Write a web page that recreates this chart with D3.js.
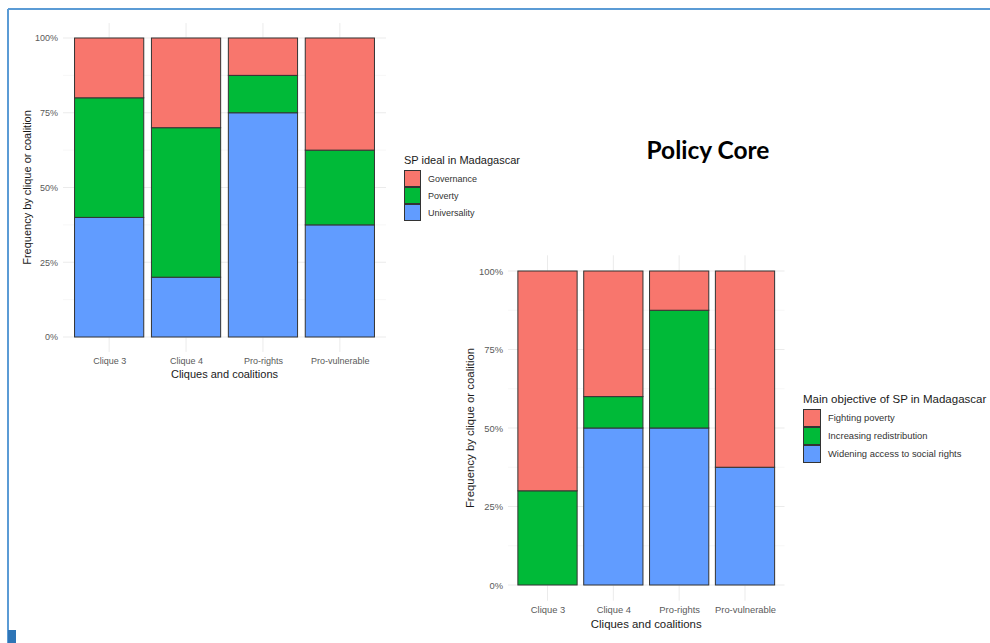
<!DOCTYPE html>
<html>
<head>
<meta charset="utf-8">
<script src="https://cdn.jsdelivr.net/npm/d3@7"></script>
<style>
  body { margin: 0; background: #fff; }
  svg { display: block; font-family: "Liberation Sans", Arial, sans-serif; }
</style>
</head>
<body>
<script>
var w = 990,
    h = 643;

// categories shared by both charts
var cats = ["Clique 3", "Clique 4", "Pro-rights", "Pro-vulnerable"];

// chart 1: SP ideal
var idealKeys = ["Governance", "Poverty", "Universality"];
var idealGovernance   = [0.20, 0.30, 0.125, 0.375];
var idealPoverty      = [0.40, 0.50, 0.125, 0.25];
var idealUniversality = [0.40, 0.20, 0.75,  0.375];

// chart 2: main objective
var objKeys = ["Fighting poverty", "Increasing redistribution", "Widening access to social rights"];
var objFighting   = [0.70, 0.40, 0.125, 0.625];
var objIncreasing = [0.30, 0.10, 0.375, 0];
var objWidening   = [0,    0.50, 0.50,  0.375];

var yTicks = [0, 0.25, 0.5, 0.75, 1];
var fills = ["#F8766D", "#00BA38", "#619CFF"];

var svg = d3.select("body").append("svg")
    .attr("width", w)
    .attr("height", h);

// frame lines of the slide
svg.append("line").attr("x1", 8).attr("y1", 9).attr("x2", w + 2).attr("y2", 9)
  .attr("stroke", "#5b9bd5").attr("stroke-width", 2);
svg.append("line").attr("x1", 8).attr("y1", 9).attr("x2", 8).attr("y2", h)
  .attr("stroke", "#5b9bd5").attr("stroke-width", 2);
svg.append("rect").attr("x", 8).attr("y", 630).attr("width", 8).attr("height", 13)
  .attr("fill", "#2e75b6");

function drawChart(c) {
  var rows = cats.map(function(cat, i) {
    var r = { cat: cat };
    c.keys.forEach(function(k, j) { r[k] = c.series[j][i]; });
    return r;
  });

  // first key sits on top, like ggplot
  var stacked = d3.stack().keys(c.keys.slice().reverse())(rows);

  var x = d3.scalePoint().domain(cats).range([c.left, c.right]).padding(0.6);
  var bw = x.step() * 0.9;
  var y = d3.scaleLinear().domain([0, 1]).range([c.y0, c.y1]);
  var pad = (c.y0 - c.y1) * 0.05;
  var top = c.y1 - pad, bottom = c.y0 + pad;

  var g = svg.append("g");

  // grid (theme_minimal)
  var minor = [0.125, 0.375, 0.625, 0.875];
  g.selectAll("line.minor").data(minor).enter().append("line")
    .attr("x1", c.left).attr("x2", c.right)
    .attr("y1", function(d) { return y(d); }).attr("y2", function(d) { return y(d); })
    .attr("stroke", "#f2f2f2").attr("stroke-width", 0.6);
  g.selectAll("line.hmajor").data(yTicks).enter().append("line")
    .attr("x1", c.left).attr("x2", c.right)
    .attr("y1", function(d) { return y(d); }).attr("y2", function(d) { return y(d); })
    .attr("stroke", "#ebebeb").attr("stroke-width", 1);
  g.selectAll("line.vmajor").data(cats).enter().append("line")
    .attr("x1", function(d) { return x(d); }).attr("x2", function(d) { return x(d); })
    .attr("y1", top).attr("y2", bottom)
    .attr("stroke", "#ebebeb").attr("stroke-width", 1);

  // bars
  stacked.forEach(function(layer) {
    var col = fills[c.keys.indexOf(layer.key)];
    g.selectAll(null).data(layer.filter(function(d) { return d[1] - d[0] > 0; }))
      .enter().append("rect")
      .attr("x", function(d) { return x(d.data.cat) - bw / 2; })
      .attr("width", bw)
      .attr("y", function(d) { return y(d[1]); })
      .attr("height", function(d) { return y(d[0]) - y(d[1]); })
      .attr("fill", col)
      .attr("stroke", "#333")
      .attr("stroke-width", 1);
  });

  // y axis
  var ya = g.append("g")
    .attr("transform", "translate(" + (c.left - 4) + ",0)")
    .call(d3.axisLeft(y).tickValues(yTicks).tickFormat(d3.format(".0%")).tickSize(0).tickPadding(1));
  ya.select(".domain").remove();
  ya.selectAll("text").attr("fill", "#5a5a5a").style("font-size", c.tick + "px")
    .style("font-family", "Liberation Sans, Arial, sans-serif");

  // x axis
  var xa = g.append("g")
    .attr("transform", "translate(0," + (bottom + 3) + ")")
    .call(d3.axisBottom(x).tickSize(0).tickPadding(3));
  xa.select(".domain").remove();
  xa.selectAll("text").attr("fill", "#5a5a5a").style("font-size", c.tick + "px")
    .style("font-family", "Liberation Sans, Arial, sans-serif");

  g.append("text")
    .attr("x", (c.left + c.right) / 2).attr("y", c.xTitleY)
    .attr("text-anchor", "middle").attr("fill", "#1a1a1a")
    .style("font-size", c.title + "px")
    .text("Cliques and coalitions");

  g.append("text")
    .attr("transform", "translate(" + c.yTitleX + "," + ((top + bottom) / 2) + ") rotate(-90)")
    .attr("text-anchor", "middle").attr("fill", "#1a1a1a")
    .style("font-size", c.title + "px")
    .text("Frequency by clique or coalition");

  // legend
  var lg = svg.append("g").attr("transform", "translate(" + c.legX + "," + c.legY + ")");
  lg.append("text").attr("x", 0).attr("y", -6).attr("fill", "#1a1a1a")
    .style("font-size", c.legTitle + "px").text(c.legendTitle);
  c.keys.forEach(function(k, i) {
    lg.append("rect")
      .attr("x", 0.5).attr("y", i * c.keySize + 0.5)
      .attr("width", c.keySize - 1).attr("height", c.keySize - 1)
      .attr("fill", fills[i]).attr("stroke", "#333").attr("stroke-width", 1);
    lg.append("text")
      .attr("x", c.keySize + 7).attr("y", i * c.keySize + c.keySize / 2 + 3)
      .attr("fill", "#333").style("font-size", c.tick + "px")
      .text(k);
  });
}

drawChart({
  keys: idealKeys,
  series: [idealGovernance, idealPoverty, idealUniversality],
  left: 63, right: 386, y0: 337, y1: 38,
  tick: 9, title: 11, legTitle: 11,
  xTitleY: 378, yTitleX: 31,
  legendTitle: "SP ideal in Madagascar",
  legX: 404, legY: 170, keySize: 17
});

drawChart({
  keys: objKeys,
  series: [objFighting, objIncreasing, objWidening],
  left: 508, right: 784.5, y0: 585, y1: 271,
  tick: 9.4, title: 11.4, legTitle: 11.5,
  xTitleY: 628, yTitleX: 474,
  legendTitle: "Main objective of SP in Madagascar",
  legX: 803, legY: 409, keySize: 18
});

svg.append("text")
  .attr("x", 708).attr("y", 159)
  .attr("text-anchor", "middle")
  .attr("fill", "#000")
  .style("font-family", "Lato, 'Open Sans', sans-serif")
  .style("font-weight", "bold")
  .style("font-size", "24.5px")
  .text("Policy Core");
</script>
</body>
</html>
